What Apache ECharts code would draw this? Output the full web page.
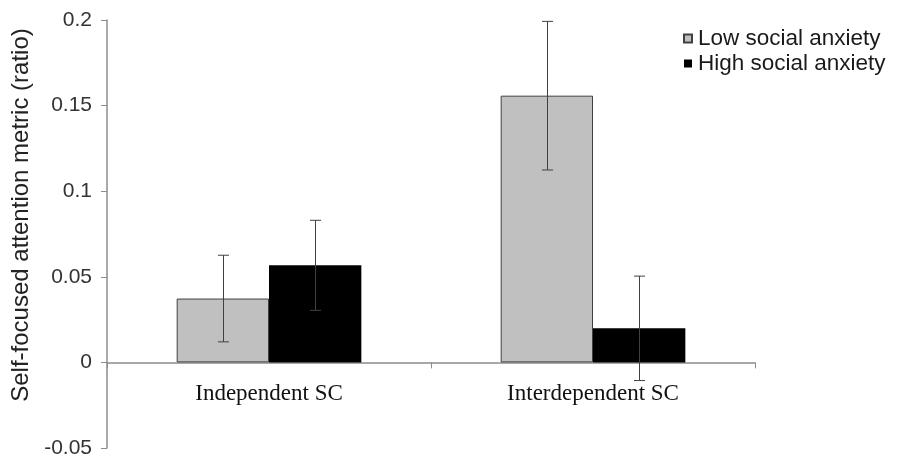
<!DOCTYPE html>
<html>
<head>
<meta charset="utf-8">
<script src="https://cdn.jsdelivr.net/npm/echarts@6/dist/echarts.min.js"></script>
<style>
html,body{margin:0;padding:0;background:#fff;}
#chart{width:900px;height:457px;}
</style>
</head>
<body>
<div id="chart"></div>
<script>
const categories = ['Independent SC', 'Interdependent SC'];
const seriesNames = ['Low social anxiety', 'High social anxiety'];
const lowValues = [0.0373, 0.1558];
const lowErrors = [0.0253, 0.0434];
const highValues = [0.0567, 0.0199];
const highErrors = [0.0263, 0.0305];
const yTicks = [-0.05, 0, 0.05, 0.1, 0.15, 0.2];

const BAR_FRAC = 0.285;
const Y_MIN = -0.05, Y_MAX = 0.2;
const GRID_TOP = 20, GRID_BOTTOM = 9, H = 457;
const gridH = H - GRID_TOP - GRID_BOTTOM;
const zeroOffset = -gridH * (0 - Y_MIN) / (Y_MAX - Y_MIN);

function errData(vals, errs) {
  return vals.map((v, i) => [i, v - errs[i], v + errs[i]]);
}

function errRender(side) {
  return function (params, api) {
    const idx = api.value(0);
    const lo = api.coord([idx, api.value(1)]);
    const hi = api.coord([idx, api.value(2)]);
    const bandW = api.size([1, 0])[0];
    const bw = bandW * BAR_FRAC;
    const x = Math.round(lo[0] + side * bw / 2) + 0.5;
    const cap = 5.5;
    const style = { stroke: '#404040', lineWidth: 1 };
    return {
      type: 'group',
      children: [
        { type: 'line', shape: { x1: x, y1: hi[1], x2: x, y2: lo[1] }, style: style },
        { type: 'line', shape: { x1: x - cap, y1: hi[1], x2: x + cap, y2: hi[1] }, style: style },
        { type: 'line', shape: { x1: x - cap, y1: lo[1], x2: x + cap, y2: lo[1] }, style: style }
      ]
    };
  };
}

const chart = echarts.init(document.getElementById('chart'), null, { renderer: 'canvas' });
chart.setOption({
  animation: false,
  backgroundColor: '#ffffff',
  grid: { left: 107, right: 145, top: GRID_TOP, bottom: GRID_BOTTOM, containLabel: false, outerBoundsMode: 'none' },
  legend: {
    orient: 'vertical',
    left: 678,
    top: 22,
    itemWidth: 8,
    itemHeight: 8,
    itemGap: 2,
    icon: 'rect',
    data: seriesNames,
    textStyle: { fontFamily: 'Liberation Sans, Arial, sans-serif', fontSize: 22.5, color: '#1a1a1a', padding: [0, 0, 0, 1] }
  },
  xAxis: {
    type: 'category',
    data: categories,
    offset: zeroOffset,
    axisLine: { onZero: false, lineStyle: { color: '#8c8c8c', width: 1.5 } },
    axisTick: { show: true, length: 6, lineStyle: { color: '#8c8c8c' } },
    axisLabel: {
      margin: 20,
      fontFamily: 'Liberation Serif, Times New Roman, serif',
      fontSize: 23,
      color: '#111'
    },
    splitLine: { show: false }
  },
  yAxis: {
    type: 'value',
    min: Y_MIN,
    max: Y_MAX,
    interval: 0.05,
    name: 'Self-focused attention metric (ratio)',
    nameLocation: 'middle',
    nameGap: 70,
    nameTextStyle: {
      fontFamily: 'Liberation Sans, Arial, sans-serif',
      fontSize: 24,
      color: '#222',
      padding: [0, 0, 0, 38]
    },
    axisLine: { show: true, lineStyle: { color: '#8c8c8c', width: 1.5 } },
    axisTick: { show: true, length: 6, lineStyle: { color: '#8c8c8c' } },
    axisLabel: {
      margin: 15,
      fontFamily: 'Liberation Sans, Arial, sans-serif',
      fontSize: 21,
      color: '#333',
      formatter: function (v) {
        const t = yTicks.find(k => Math.abs(k - v) < 1e-9);
        return t === undefined ? '' : String(t);
      }
    },
    splitLine: { show: false }
  },
  series: [
    {
      name: seriesNames[0],
      type: 'bar',
      data: lowValues,
      barWidth: (BAR_FRAC * 100) + '%',
      barGap: '0%',
      itemStyle: { color: '#c0c0c0', borderColor: '#404040', borderWidth: 1 }
    },
    {
      name: seriesNames[1],
      type: 'bar',
      data: highValues,
      barWidth: (BAR_FRAC * 100) + '%',
      barGap: '0%',
      itemStyle: { color: '#000000', borderColor: '#000000', borderWidth: 0 }
    },
    {
      type: 'custom',
      name: 'lowErr',
      renderItem: errRender(-1),
      data: errData(lowValues, lowErrors),
      encode: { x: 0, y: [1, 2] },
      z: 10,
      silent: true
    },
    {
      type: 'custom',
      name: 'highErr',
      renderItem: errRender(1),
      data: errData(highValues, highErrors),
      encode: { x: 0, y: [1, 2] },
      z: 10,
      silent: true
    }
  ]
});
</script>
</body>
</html>
